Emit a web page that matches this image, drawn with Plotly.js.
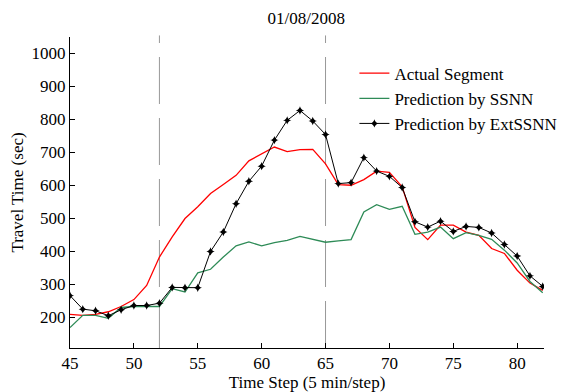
<!DOCTYPE html>
<html>
<head>
<meta charset="utf-8">
<script src="https://cdn.plot.ly/plotly-3.0.1.min.js"></script>
<style>html,body{margin:0;padding:0;background:#fff;}#chart{width:562px;height:392px;}</style>
</head>
<body>
<div id="chart"></div>
<script>
const timeSteps = [45,46,47,48,49,50,51,52,53,54,55,56,57,58,59,60,61,62,63,64,65,66,67,68,69,70,71,72,73,74,75,76,77,78,79,80,81,82];
const actualSegment = [208,205,208,216,232,253,296,382,443,499,535,575,602,630,674,696,716,702,708,709,665,602,600,617,643,639,595,472,435,479,479,458,448,408,393,342,303,281];
const predSSNN = [168,205,205,196,229,232,232,232,286,276,334,345,382,416,428,416,426,433,445,437,427,431,435,519,541,527,536,451,458,473,438,456,448,436,403,364,308,274];
const predExtSSNN = [265,224,219,204,222,235,235,242,290,289,289,399,458,544,612,658,737,797,827,795,754,605,608,684,643,627,593,489,473,491,460,475,472,455,420,385,325,293];
const boundarySteps = [52,65];
const xTicks = [45,50,55,60,65,70,75,80];
const yTicks = [200,300,400,500,600,700,800,900,1000];

const font = "Liberation Serif, Times New Roman, serif";
const fs = 17;

const traces = [
  {x: timeSteps, y: actualSegment, name: 'Actual Segment', type: 'scatter', mode: 'lines',
   line: {color: '#ff0000', width: 1.3}},
  {x: timeSteps, y: predSSNN, name: 'Prediction by SSNN', type: 'scatter', mode: 'lines',
   line: {color: '#2e8b57', width: 1.3}},
  {x: timeSteps, y: predExtSSNN, name: 'Prediction by ExtSSNN', type: 'scatter', mode: 'lines+markers',
   line: {color: '#000000', width: 1}, marker: {symbol: 'star-diamond', size: 6, color: '#000000'}}
];

const shapes = boundarySteps.map(s => ({
  type: 'line', xref: 'x', yref: 'paper', x0: s, x1: s, y0: 0, y1: 1.005,
  line: {color: '#999999', width: 1, dash: '47px,14px'}, layer: 'below'
}));

const layout = {
  width: 562, height: 392,
  margin: {l: 70, r: 18, t: 37, b: 44, autoexpand: false},
  paper_bgcolor: '#ffffff', plot_bgcolor: '#ffffff',
  font: {family: font, size: fs, color: '#000'},
  title: {text: '01/08/2008', font: {family: font, size: fs, color: '#000'}, x: 0.545, xanchor: 'center', y: 0.955, yanchor: 'middle'},
  xaxis: {
    range: [45, 82.1], tickvals: xTicks, ticks: 'inside', ticklen: 5, tickcolor: '#000',
    showline: true, linecolor: '#000', linewidth: 1, showgrid: false, zeroline: false, mirror: false,
    tickfont: {family: font, size: fs},
    title: {text: 'Time Step (5 min/step)', font: {family: font, size: fs}, standoff: 0}
  },
  yaxis: {
    range: [106, 1050], tickvals: yTicks, ticks: 'inside', ticklen: 5, tickcolor: '#000',
    showline: true, linecolor: '#000', linewidth: 1, showgrid: false, zeroline: false, mirror: false,
    tickfont: {family: font, size: fs},
    title: {text: 'Travel Time (sec)', font: {family: font, size: fs}, standoff: 3}
  },
  showlegend: true,
  legend: {x: 0.6, y: 0.94, xanchor: 'left', yanchor: 'top', bgcolor: 'rgba(0,0,0,0)', borderwidth: 0,
    font: {family: font, size: fs}, tracegroupgap: 0},
  shapes: shapes
};

Plotly.newPlot('chart', traces, layout, {displayModeBar: false, staticPlot: true});
</script>
</body>
</html>
